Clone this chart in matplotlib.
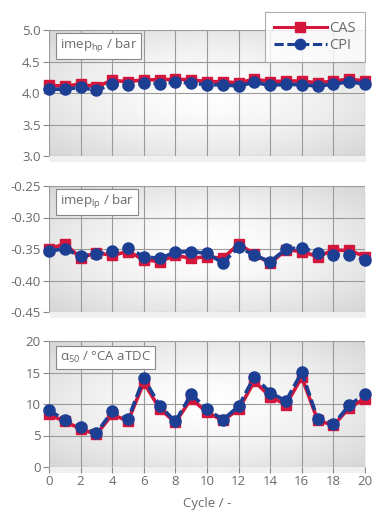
import numpy as np
import matplotlib
matplotlib.use('Agg')
import matplotlib.pyplot as plt
from matplotlib.lines import Line2D

plt.rcParams['font.family'] = ['Open Sans', 'DejaVu Sans']

# data
cycles = list(range(21))

imep_hp_cas = [4.12, 4.11, 4.14, 4.10, 4.20, 4.18, 4.21, 4.21, 4.22, 4.21, 4.18,
               4.18, 4.16, 4.22, 4.18, 4.19, 4.19, 4.16, 4.19, 4.22, 4.19]
imep_hp_cpi = [4.06, 4.06, 4.09, 4.04, 4.14, 4.13, 4.16, 4.15, 4.17, 4.16, 4.13,
               4.13, 4.11, 4.17, 4.12, 4.14, 4.13, 4.11, 4.14, 4.18, 4.14]

imep_lp_cas = [-0.350, -0.342, -0.364, -0.356, -0.360, -0.354, -0.367, -0.370, -0.360, -0.365, -0.362,
               -0.365, -0.342, -0.358, -0.373, -0.351, -0.354, -0.362, -0.352, -0.352, -0.362]
imep_lp_cpi = [-0.353, -0.350, -0.361, -0.358, -0.353, -0.349, -0.362, -0.365, -0.355, -0.354, -0.357,
               -0.372, -0.347, -0.360, -0.370, -0.350, -0.348, -0.356, -0.359, -0.360, -0.367]

a50_cas = [8.35, 7.23, 6.06, 5.16, 8.35, 7.29, 13.4, 9.26, 7.07, 10.85, 8.67,
           7.39, 9.15, 13.6, 11.17, 9.9, 14.26, 7.45, 6.6, 9.41, 10.85]
a50_cpi = [8.99, 7.45, 6.33, 5.37, 8.83, 7.55, 14.1, 9.73, 7.23, 11.54, 9.2,
           7.5, 9.63, 14.36, 11.8, 10.48, 15.05, 7.66, 6.76, 9.79, 11.6]

red = '#d4163c'
blue = '#1c3f94'
gray_txt = '#6a6a6a'

panels = [
    (imep_hp_cas, imep_hp_cpi, (3.0, 5.0), [3.0, 3.5, 4.0, 4.5, 5.0], '%.1f',
     r'imep$_{\mathregular{hp}}$ / bar'),
    (imep_lp_cas, imep_lp_cpi, (-0.45, -0.25), [-0.45, -0.40, -0.35, -0.30, -0.25], '%.2f',
     r'imep$_{\mathregular{lp}}$ / bar'),
    (a50_cas, a50_cpi, (0, 20), [0, 5, 10, 15, 20], '%d',
     r'α$_{\mathregular{50}}$ / °CA aTDC'),
]

fig = plt.figure(figsize=(3.74, 5.18), dpi=100)
left, width, height = 49 / 374, 316 / 374, 126 / 518
bottoms = [1 - 156 / 518, 1 - 312 / 518, 1 - 467 / 518]

# radial gradient for the plot background
gx, gy = np.meshgrid(np.linspace(-1, 1, 200), np.linspace(-1, 1, 100))
r = np.sqrt(gx ** 2 + gy ** 2) / np.sqrt(2)
grad = 0.995 - 0.16 * r ** 1.6

for i, (cas, cpi, ylim, yticks, fmt, label) in enumerate(panels):
    # shadow behind the axes
    sh = fig.add_axes([left + 0.004, bottoms[i] - 0.012, width, height], zorder=0)
    sh.set_facecolor('#f0f0f0')
    for s in sh.spines.values():
        s.set_visible(False)
    sh.set_xticks([])
    sh.set_yticks([])

    ax = fig.add_axes([left, bottoms[i], width, height], zorder=1)
    ax.imshow(grad, cmap='gray', vmin=0, vmax=1, aspect='auto',
              extent=[0, 1, 0, 1], transform=ax.transAxes, zorder=0)
    ax.plot(cycles, cas, color=red, lw=2.6, marker='s', ms=7.5, zorder=3, clip_on=False)
    ax.plot(cycles, cpi, color=blue, lw=2.6, ls=(0, (3, 1.2)), marker='o', ms=8,
            zorder=4, clip_on=False)
    ax.set_xlim(0, 20)
    ax.set_ylim(*ylim)
    ax.set_xticks(range(0, 21, 2))
    ax.set_yticks(yticks)
    ax.set_yticklabels([fmt % v for v in yticks])
    ax.grid(True, color='#9a9a9a', lw=0.8, zorder=1)
    ax.set_axisbelow(True)
    for s in ax.spines.values():
        s.set_visible(False)
    ax.tick_params(axis='both', colors='#8a8a8a', labelcolor=gray_txt, labelsize=9.5,
                   length=4, width=0.8, pad=2)
    if i < 2:
        ax.tick_params(axis='x', labelbottom=False, length=0)
    ax.text(0.035, 0.87, label, transform=ax.transAxes, fontsize=9.5, color=gray_txt,
            va='center', ha='left', zorder=5,
            bbox=dict(boxstyle='square,pad=0.3', fc='white', ec='#888888', lw=0.8))

fig.axes[-1].set_xlabel('Cycle / -', color=gray_txt, fontsize=9.5, labelpad=6)

handles = [Line2D([], [], color=red, lw=2.2, marker='s', ms=7),
           Line2D([], [], color=blue, lw=2.2, ls=(0, (3, 1.2)), marker='o', ms=7.5)]
leg = fig.legend(handles, ['CAS', 'CPI'], loc='upper right', bbox_to_anchor=(0.995, 0.99),
                 frameon=True, fancybox=False, edgecolor='#999999', fontsize=10.5,
                 handlelength=3.6, handletextpad=0.2, labelspacing=0.15, borderpad=0.6)
leg.get_frame().set_linewidth(0.8)
for t in leg.get_texts():
    t.set_color(gray_txt)
leg.set_zorder(10)

fig.savefig('out.png', dpi=100)
